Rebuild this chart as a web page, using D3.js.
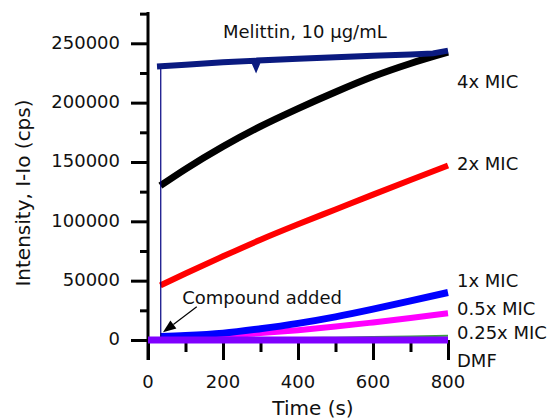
<!DOCTYPE html>
<html>
<head>
<meta charset="utf-8">
<script src="https://cdn.jsdelivr.net/npm/d3@7"></script>
<style>
  body { margin: 0; background: #fff; }
  text { font-family: "DejaVu Sans", Verdana, sans-serif; fill: #111; }
</style>
</head>
<body>
<div id="chart"></div>
<script>
var svgWidth = 554;
var svgHeight = 420;

// data
var times = [33, 100, 200, 300, 400, 500, 600, 700, 800];
var mic4x = [130000, 144000, 163000, 180000, 195000, 209000, 222000, 233000, 242500];
var mic2x = [46000, 56000, 70500, 84500, 97500, 110000, 122500, 134800, 147000];
var mic1x = [3000, 3800, 5800, 9500, 14000, 19500, 26000, 33000, 40000];
var mic05x = [2000, 2500, 3800, 5800, 8300, 11300, 14800, 18500, 22500];
var mic025x = [500, 700, 900, 1200, 1500, 2000, 2500, 3000, 3500];

var dmfTimes = [0, 200, 400, 600, 800];
var dmf = [0, 0, 0, 0, 0];

var melTimes = [24, 100, 200, 282, 288, 294, 400, 500, 600, 700, 760, 800];
var melittin = [230500, 232000, 234000, 235300, 231000, 235500, 237000, 238300, 239500, 240500, 241500, 243800];

var addedTime = 34;

var xTicks = [0, 200, 400, 600, 800];
var yTicks = [0, 50000, 100000, 150000, 200000, 250000];

var seriesLabels = ["4x MIC", "2x MIC", "1x MIC", "0.5x MIC", "0.25x MIC", "DMF"];
var labelY = [88, 170, 287, 315, 339, 367];

var svg = d3.select("#chart")
    .append("svg")
    .attr("width", svgWidth)
    .attr("height", svgHeight);

var xScale = d3.scaleLinear().domain([0, 800]).range([148, 448]);
var yScale = d3.scaleLinear().domain([0, 250000]).range([340, 43.3]);

/// axes
var xAxis = d3.axisBottom(xScale)
    .tickValues(d3.range(0, 801, 100))
    .tickSize(12)
    .tickSizeOuter(0)
    .tickFormat("");
var xg = svg.append("g")
    .attr("transform", "translate(0,340)")
    .call(xAxis);
xg.select(".domain").remove();
xg.selectAll(".tick line")
    .attr("stroke", "#000")
    .attr("stroke-width", 3)
    .attr("y2", d => xTicks.includes(d) ? 20 : 12);

var yAxis = d3.axisLeft(yScale)
    .tickValues(d3.range(0, 275001, 25000))
    .tickSize(8)
    .tickSizeOuter(0)
    .tickFormat("");
var yg = svg.append("g")
    .attr("transform", "translate(148,0)")
    .call(yAxis);
yg.select(".domain").remove();
yg.selectAll(".tick line")
    .attr("stroke", "#000")
    .attr("stroke-width", 3)
    .attr("x2", d => yTicks.includes(d) ? -17 : -8);

svg.append("line")
    .attr("x1", 148).attr("x2", 148)
    .attr("y1", 12).attr("y2", 360)
    .attr("stroke", "#000")
    .attr("stroke-width", 3);

svg.selectAll(".xlab")
    .data(xTicks)
    .enter()
    .append("text")
    .attr("x", d => xScale(d))
    .attr("y", 388)
    .attr("text-anchor", "middle")
    .style("font-size", "18px")
    .text(d => d);

svg.selectAll(".ylab")
    .data(yTicks)
    .enter()
    .append("text")
    .attr("x", 120)
    .attr("y", d => yScale(d))
    .attr("dy", "0.3em")
    .attr("text-anchor", "end")
    .style("font-size", "18px")
    .text(d => d);

svg.append("text")
    .attr("x", 313)
    .attr("y", 415)
    .attr("text-anchor", "middle")
    .style("font-size", "20px")
    .text("Time (s)");

svg.append("text")
    .attr("transform", "translate(30,193) rotate(-90)")
    .attr("text-anchor", "middle")
    .style("font-size", "20px")
    .text("Intensity, I-Io (cps)");

/// lines
var line = d3.line()
    .x(d => xScale(d[0]))
    .y(d => yScale(d[1]))
    .curve(d3.curveMonotoneX);

function pairs(ts, vs) {
    return ts.map((t, i) => [t, vs[i]]);
}

var series = [
    { vals: mic025x, color: "#3aa040", width: 2 },
    { vals: mic05x, color: "#ff00ff", width: 6 },
    { vals: mic1x, color: "#0000ff", width: 7 },
    { vals: mic2x, color: "#ff0000", width: 6 },
    { vals: mic4x, color: "#000000", width: 7 }
];

series.forEach(s => {
    svg.append("path")
        .datum(pairs(times, s.vals))
        .attr("fill", "none")
        .attr("stroke", s.color)
        .attr("stroke-width", s.width)
        .attr("d", line);
});

// compound added marker line
svg.append("line")
    .attr("x1", xScale(addedTime)).attr("x2", xScale(addedTime))
    .attr("y1", yScale(0)).attr("y2", yScale(melittin[0]))
    .attr("stroke", "#000080")
    .attr("stroke-width", 1.2);

svg.append("path")
    .datum(pairs(melTimes, melittin))
    .attr("fill", "none")
    .attr("stroke", "#0a1a80")
    .attr("stroke-width", 6)
    .attr("d", d3.line().x(d => xScale(d[0])).y(d => yScale(d[1])));

svg.append("path")
    .datum(pairs(dmfTimes, dmf))
    .attr("fill", "none")
    .attr("stroke", "#7f00ff")
    .attr("stroke-width", 7)
    .attr("d", line);

/// annotations
svg.append("text")
    .attr("x", 223)
    .attr("y", 38)
    .style("font-size", "18px")
    .text("Melittin, 10 \u03bcg/mL");

svg.append("text")
    .attr("x", xScale(91))
    .attr("y", yScale(30300))
    .style("font-size", "18px")
    .text("Compound added");

var ax0 = xScale(130), ay0 = yScale(28000);
var ax1 = xScale(40), ay1 = yScale(6500);
var ang = Math.atan2(ay1 - ay0, ax1 - ax0);
var headLen = 13, headW = 5;
var bx = ax1 - headLen * Math.cos(ang), by = ay1 - headLen * Math.sin(ang);
svg.append("line")
    .attr("x1", ax0).attr("y1", ay0)
    .attr("x2", bx).attr("y2", by)
    .attr("stroke", "#000")
    .attr("stroke-width", 1.2);
svg.append("path")
    .attr("d", `M${ax1},${ay1}L${bx + headW * Math.sin(ang)},${by - headW * Math.cos(ang)}L${bx - headW * Math.sin(ang)},${by + headW * Math.cos(ang)}Z`)
    .attr("fill", "#000");

svg.selectAll(".slab")
    .data(seriesLabels)
    .enter()
    .append("text")
    .attr("x", 457)
    .attr("y", (d, i) => labelY[i])
    .style("font-size", "18px")
    .text(d => d);
</script>
</body>
</html>
